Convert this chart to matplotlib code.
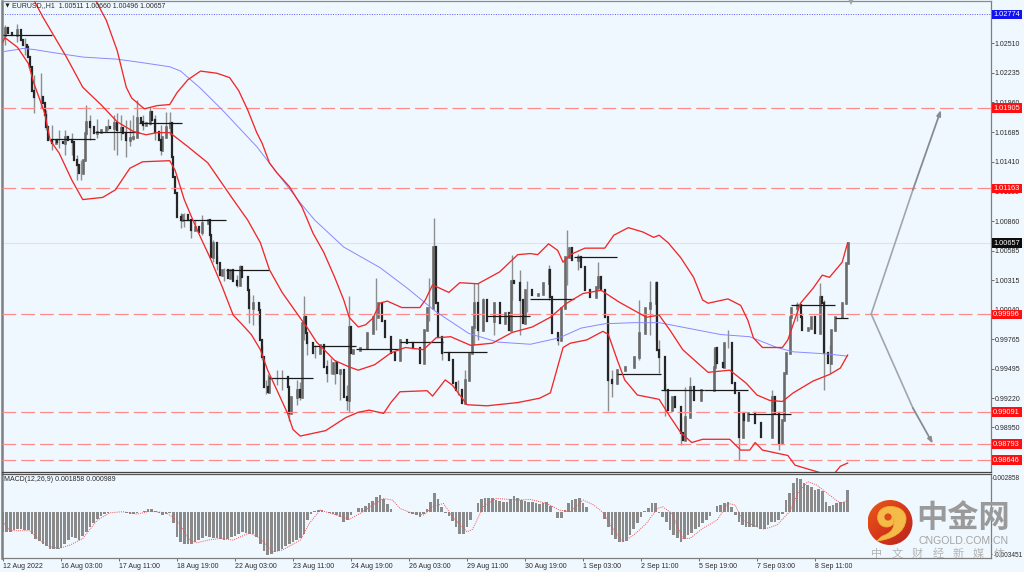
import matplotlib
matplotlib.use("Agg")
import matplotlib.pyplot as plt
from matplotlib.patches import Circle, PathPatch, Rectangle
from matplotlib.path import Path
import numpy as np

plt.rcParams['font.family'] = ['Liberation Sans', 'DejaVu Sans']

# ---- candles (hour index, close in 1e-4 price units) ----
bar_hours = [0,1,3,5,7,8,10,11,13,14,15,16,17,19,22,23,24,25,27,29,30,33,34,36,38,39,41,42,44,45,46,48,50,52,54,55,57,59,61,63,65,66,68,70,72,74,76,77,79,81,82,84,86,87,88,90,92,93,94,95,
96,98,99,102,104,106,108,110,113,114,115,116,118,120,121,124,125,127,129,131,132,135,136,138,141,142,143,144,146,147,150,154,157,158,159,162,164,165,166,167,168,171,175,177,179,182,184,186,188,190,191,192,193,197,201,204,207,209,211,214,216,219,223,226,230,232,234,237,239,240,242,246,248,250,253,255,257,259,260,262,265,267,271,274,277,279,280,282,285,287,288,292,295,298,301,302,303,306,308,310,312,314,317,319,321,324,327,328,330,332,334,336,339,343,348,351,354,357,360,361,362,365,367,369,371,374,375,376,379,381,385,388,390,392,393,394,397,398,400,402,404,406,408,409,411,415,418,420,424,426,428,430,431,432,434,435,438,440,441,444,446,448,451,452,453,455,457,459,462,463,465,466]
bar_close = [10258,10265,10260,10258,10258,10263,10254,10249,10247,10238,10229,10207,10201,10201,10195,10184,10173,10161,10158,10161,10159,10158,10164,10161,10159,10143,10138,10131,10143,10168,10178,10173,10168,10169,10170,10170,10173,10172,10177,10170,10172,10168,10161,10163,10164,10182,10178,10175,10177,10187,10180,10169,10161,10152,10164,10173,10177,10145,10127,10112,
10090,10087,10092,10087,10078,10081,10076,10084,10087,10073,10053,10066,10047,10036,10041,10033,10041,10031,10027,10044,10034,10022,10006,10010,10004,9976,9960,9932,9928,9942,9942,9942,9932,9908,9923,9930,9923,9992,9997,9982,9973,9964,9971,9951,9945,9955,9945,9948,9923,9920,9988,9964,9967,9969,9982,9997,10010,9994,9979,9964,9957,9976,9973,9969,9955,9985,10006,10062,10010,9979,9964,9957,9936,9930,9918,9939,9964,9988,10010,9985,10013,9994,10010,9992,10001,9985,10031,10029,10013,9992,10022,10018,10019,10029,10041,10016,9982,9976,10006,10053,10061,10050,10053,10044,10022,10016,10025,10034,10022,9997,9939,9936,9948,9951,9960,9982,10006,10010,10029,9967,9960,9930,9911,9923,9914,9890,9883,9905,9932,9920,9930,9930,9930,9951,9969,9955,9951,9973,9973,9936,9927,9886,9908,9902,9908,9899,9886,9886,9923,9908,9881,9902,9945,9964,9997,10006,10008,9997,9985,9987,9997,9982,10016,10010,9964,9955,9985,9997,9997,10010,10047,10066]

# ---- wicks (hour, high, low) ----
wick_hours = [1,8,12,17,21,24,27,31,34,38,41,43,46,48,52,58,61,63,65,68,70,72,74,77,81,84,87,90,92,98,100,104,106,110,116,118,122,129,131,136,138,141,143,145,146,151,154,158,162,164,166,168,172,179,181,183,186,190,191,206,235,238,242,251,255,260,262,265,271,281,285,289,301,306,311,317,328,334,336,351,357,360,362,365,374,376,379,392,400,406,424,428,438,451,453,456]
wick_high = [10268,10269,10256,10221,10223,10189,10175,10170,10170,10168,10147,10143,10194,10184,10181,10181,10184,10186,10184,10180,10180,10184,10198,10184,10192,10184,10175,10187,10187,10094,10094,10085,10087,10092,10069,10054,10043,10036,10045,10018,10018,10010,9971,9939,9944,9948,9948,9925,9939,9937,10017,9981,9971,9957,9959,9957,9948,9934,10017,10033,10033,10089,9976,9939,9948,10029,10029,10015,10011,10055,10041,10031,10045,9982,10078,10056,10048,9994,9948,10013,10031,10031,9976,9936,9905,9932,9942,9969,9985,9925,9930,9897,10011,10029,10013,9971]
wick_low = [10249,10252,10240,10186,10191,10170,10152,10154,10147,10147,10124,10124,10166,10161,10163,10170,10152,10147,10161,10145,10156,10161,10178,10170,10175,10161,10147,10166,10166,10080,10081,10070,10078,10073,10048,10041,10031,10025,10036,9992,9990,9990,9957,9926,9928,9934,9930,9901,9916,9920,9976,9962,9959,9937,9944,9935,9920,9911,9909,9985,9994,10013,9957,9925,9925,9971,9976,9985,9981,10013,9981,10002,10013,9971,10027,10041,10022,9910,9923,9957,9981,9976,9945,9906,9879,9899,9914,9930,9969,9865,9906,9874,9994,10010,9930,9945]

# ---- daily open lines ----
open_start = [0,27,51,75,99,123,147,171,195,219,243,267,291,315,339,363,387,411,435,459]
open_end = [27,51,75,99,123,147,171,195,219,243,267,291,315,339,363,387,411,435,459,466]
open_level = [10258,10162,10169,10177,10087,10041,9941,9970,9968,9974,9965,9998,10014,10053,9944,9930,9930,9907,10008,9996]

# ---- Bollinger bands ----
upper_hours = [51,57,63,68,71,78,85,92,96,102,109,118,125,130,135,140,143,147,151,158,165,168,171,177,183,188,191,196,200,204,208,212,220,230,233,237,246,252,262,274,279,284,291,295,301,306,309,313,321,332,337,345,353,359,362,367,374,381,386,389,400,407,411,414,419,430,433,440,447,452,456,463,466]
upper_band = [10291,10272,10244,10210,10200,10190,10193,10194,10205,10217,10225,10223,10219,10207,10189,10168,10158,10140,10131,10118,10099,10087,10075,10057,10034,10013,9997,9988,9990,9996,10010,10012,10006,10006,10013,10027,10020,10029,10028,10039,10047,10055,10056,10055,10065,10059,10048,10055,10061,10061,10073,10080,10076,10071,10073,10066,10052,10034,10013,10010,10014,10008,9994,9978,9969,9969,9976,10010,10024,10036,10034,10048,10066]
mid_hours = [17,22,35,44,54,63,72,79,85,92,102,113,127,135,142,147,154,162,168,173,183,191,196,205,214,222,232,239,247,258,270,281,292,302,311,320,330,340,355,362,368,375,383,389,401,410,416,423,430,436,447,456,462,466]
mid_band = [10291,10275,10238,10210,10194,10178,10169,10166,10168,10168,10155,10140,10106,10087,10066,10041,10020,10001,9987,9974,9957,9951,9948,9953,9964,9969,9967,9978,9979,9971,9973,9983,9988,9997,10010,10019,10022,10011,9997,9999,9985,9967,9955,9946,9948,9936,9925,9920,9919,9927,9938,9944,9950,9962]
lower_hours = [0,1,8,14,17,23,26,31,38,44,55,62,70,77,92,95,100,104,109,114,121,127,131,137,142,146,151,157,160,164,178,189,196,202,210,214,219,234,237,244,248,256,267,284,296,302,309,313,322,331,334,339,343,350,362,368,374,380,386,401,407,412,415,419,433,437,445,451,459,462,466]
lower_band = [10252,10256,10247,10232,10214,10186,10161,10149,10124,10106,10108,10115,10135,10141,10142,10133,10106,10090,10071,10053,10025,9999,9992,9981,9967,9948,9930,9908,9893,9887,9892,9904,9909,9911,9908,9918,9928,9929,9924,9939,9934,9916,9915,9918,9922,9927,9969,9973,9976,9984,9981,9957,9939,9925,9921,9905,9890,9881,9884,9884,9874,9874,9881,9874,9869,9860,9856,9853,9853,9859,9862]

# ---- moving average ----
ma_hours = [0,8,11,17,28,44,63,76,92,98,109,121,140,164,172,188,208,223,239,257,273,291,307,319,332,348,362,396,412,427,436,455,466]
ma_line = [10243,10245,10246,10245,10242,10238,10236,10233,10229,10225,10209,10189,10155,10103,10087,10062,10043,10024,10002,9982,9974,9972,9978,9987,9991,9992,9992,9981,9979,9969,9965,9963,9961]

# ---- horizontal levels ----
red_levels = [1.01905,1.01163,0.99996,0.99091,0.98793,0.98646]
blue_level = 1.02774
last_price = 1.00657

# ---- projection arrows (hour, 1e-4 price) ----
arrow_up_hours = [479,502,517.5]
arrow_up_price = [10000,10115,10189]
arrow_dn_hours = [479,502,513]
arrow_dn_price = [10000,9913,9880]

# ---- MACD, values in 1e-5, one histogram value per two hours ----
hist_values = [-161,-161,-161,-150,-141,-141,-144,-147,-175,-222,-241,-258,-280,-305,-305,-302,-294,-258,-230,-205,-211,-227,-197,-163,-125,-91,-58,-30,-17,-6,3,6,6,3,-3,-11,-17,-8,0,14,28,30,14,-8,-22,-14,-3,-91,-202,-244,-258,-263,-258,-249,-230,-211,-197,-208,-213,-216,-222,-230,-224,-202,-194,-180,-161,-169,-175,-180,-202,-258,-319,-355,-341,-330,-319,-302,-280,-258,-244,-230,-216,-175,-64,-14,14,22,19,6,-8,-17,-22,-36,-78,-64,-22,6,33,39,55,75,97,130,144,108,69,25,3,0,0,0,-8,-14,-22,-42,-17,25,89,158,108,42,-8,-28,-69,-125,-175,-175,-125,-64,6,80,111,119,122,116,103,97,89,86,108,136,122,103,94,89,83,75,72,75,83,53,6,-50,-44,19,80,103,114,116,80,42,6,0,0,0,-58,-119,-188,-222,-247,-249,-235,-188,-141,-91,-36,11,33,75,75,-3,-36,-77,-147,-188,-216,-244,-219,-188,-174,-141,-119,-86,-64,-30,6,53,61,75,89,47,-22,-78,-105,-119,-119,-122,-125,-136,-141,-105,-78,-78,-64,-14,103,158,241,283,274,241,230,213,186,191,180,89,53,64,75,83,89,186]
signal_hours = [0,4,9,15,20,26,31,37,44,52,59,66,74,81,90,96,103,107,113,120,127,136,142,149,154,164,169,175,184,191,197,204,210,215,219,226,232,237,243,248,256,259,265,272,284,291,300,307,313,320,326,331,337,342,348,355,361,364,369,375,379,386,394,400,404,408,416,420,427,434,439,444,449,456,462,466]
signal_values = [-78,-152,-152,-152,-230,-285,-299,-271,-216,-64,-3,6,-14,11,-3,-64,-230,-252,-230,-216,-230,-169,-216,-327,-313,-230,-91,19,-22,-58,-8,61,116,102,33,-8,-22,47,75,-36,-161,-141,47,116,103,108,75,19,6,103,61,0,-147,-244,-188,-91,33,47,-8,-216,-216,-133,-64,75,61,-64,-119,-139,-105,6,172,255,227,144,75,99]

# ---- tick labels ----
price_ticks = [1.02510,1.02235,1.01960,1.01685,1.01410,1.01135,1.00860,1.00585,1.00315,1.00040,0.99765,0.99495,0.99220,0.98950,0.98675]
macd_ticks = [0.002858,-0.003451]
date_ticks = [0,32,64,96,128,160,192,224,256,288,320,352,384,416,448]
date_labels = ['12 Aug 2022','16 Aug 03:00','17 Aug 11:00','18 Aug 19:00','22 Aug 03:00','23 Aug 11:00','24 Aug 19:00','26 Aug 03:00','29 Aug 11:00','30 Aug 19:00','1 Sep 03:00','2 Sep 11:00','5 Sep 19:00','7 Sep 03:00','8 Sep 11:00']

W, H = 1024, 572
BG = '#F0F8FF'
TXT = '#2a2a2a'
FS = 5.0
XLIM = (-0.55, 545.1)

def box(x0, y0, x1, y1):
    return [x0 / W, 1 - y1 / H, (x1 - x0) / W, (y1 - y0) / H]

fig = plt.figure(figsize=(W / 100, H / 100), dpi=100, facecolor=BG)
ax = fig.add_axes(box(2, 1, 991, 472), facecolor=BG)
mx = fig.add_axes(box(2, 474, 991, 558), facecolor=BG)

# ---- main chart ----
close = np.array(bar_close) / 1e4
opens = np.r_[close[0], close[:-1]]
hours = np.array(bar_hours)
ax.vlines(wick_hours, np.array(wick_low) / 1e4, np.array(wick_high) / 1e4, color='#8e8e8e', lw=1.0, zorder=2)
up = close >= opens
ax.vlines(hours[up], opens[up], close[up], color='#6a6a6a', lw=1.9, zorder=3, capstyle='projecting')
ax.vlines(hours[~up], opens[~up], close[~up], color='#262626', lw=1.6, zorder=3, capstyle='projecting')
ax.hlines(np.array(open_level) / 1e4, open_start, open_end, color='#1a1a1a', lw=0.9, zorder=4)

ax.axhline(last_price, color='#dfe3e8', lw=0.8, zorder=1)
ax.axhline(blue_level, color='#5a5aff', lw=0.7, ls=(0, (1, 1.5)), zorder=1)
for lv in red_levels:
    ax.axhline(lv, color='#ff8a8a', lw=0.9, ls=(0, (11, 4)), zorder=5)

ax.plot(ma_hours, np.array(ma_line) / 1e4, color='#8888ff', lw=0.7, zorder=5)
for hh, vv in ((upper_hours, upper_band), (mid_hours, mid_band), (lower_hours, lower_band)):
    ax.plot(hh, np.array(vv) / 1e4, color='#f02828', lw=0.95, zorder=6)

for hh, vv in ((arrow_up_hours, arrow_up_price), (arrow_dn_hours, arrow_dn_price)):
    vv = np.array(vv) / 1e4
    ax.plot(hh[:2], vv[:2], color='#a0a6ac', lw=1.2, zorder=6)
    ax.annotate('', xy=(hh[2], vv[2]), xytext=(hh[1], vv[1]), zorder=6,
                arrowprops=dict(arrowstyle='-|>,head_width=0.12,head_length=0.32', color='#888c91', lw=1.3,
                                shrinkA=0, shrinkB=0))

ax.set_xlim(*XLIM)
ax.set_ylim(0.98537, 1.02899)
ax.set_xticks([])
ax.yaxis.tick_right()
ax.set_yticks(price_ticks)
ax.set_yticklabels([f'{t:.5f}' for t in price_ticks], fontsize=FS, color=TXT)
ax.tick_params(axis='y', length=2.0, width=0.6, color='#555', pad=0.8)

# price tags
def tag(val, col):
    y = val
    tr = ax.get_yaxis_transform()
    ax.add_patch(Rectangle((1.0008, y - 0.00045), 0.0305, 0.0009, transform=tr, facecolor=col, edgecolor='none',
                           clip_on=False, zorder=10))
    ax.text(1.0022, y, f'{val:.5f}', transform=tr, color='white', fontsize=FS + 0.3, va='center', ha='left',
            clip_on=False, zorder=11)

for lv in red_levels:
    tag(lv, '#ff1010')
tag(blue_level, '#1212f0')
tag(last_price, '#0c0c0c')

# ---- MACD ----
hist_hours = np.arange(len(hist_values)) * 2
mx.bar(hist_hours, np.array(hist_values) / 1e5, width=1.4, color='#8a8a8a', linewidth=0, zorder=2)
mx.plot(signal_hours, np.array(signal_values) / 1e5, color='#f25050', lw=0.7, ls=(0, (1, 1.2)), zorder=3)
mx.set_xlim(*XLIM)
mx.set_ylim(-0.003783, 0.00319)
mx.yaxis.tick_right()
mx.set_yticks(macd_ticks)
mx.set_yticklabels([f'{t:.6f}' for t in macd_ticks], fontsize=FS - 0.3, color=TXT)
mx.tick_params(axis='y', length=1.0, width=0.6, color='#555', pad=0.6)
mx.set_xticks(date_ticks)
mx.set_xticklabels(date_labels, fontsize=FS, color=TXT, ha='left')
mx.tick_params(axis='x', length=2.2, width=0.6, color='#555', pad=1.5)

for a in (ax, mx):
    for s in a.spines.values():
        s.set_color('#7e7e7e')
        s.set_linewidth(0.9)
    a.spines['left'].set_linewidth(1.8)
ax.spines['bottom'].set_color('#444')
mx.spines['top'].set_color('#555')
ax.spines['top'].set_color('#8a8a8a')

# ---- overlay in picture pixels: captions and watermark ----
ov = fig.add_axes([0, 0, 1, 1], zorder=20)
ov.set_xlim(0, W)
ov.set_ylim(H, 0)
ov.axis('off')
ov.patch.set_visible(False)
ov.plot([6.5], [5], marker='v', ms=3, color='#222', mew=0)
ov.plot([851], [2], marker='v', ms=5, color='#a0a4a8', mew=0)
ov.text(12, 5.5, 'EURUSD,,H1  1.00511 1.00660 1.00496 1.00657', fontsize=FS, color=TXT, va='center')
ov.text(4, 479.5, 'MACD(12,26,9) 0.001858 0.000989', fontsize=FS, color=TXT, va='center')

gx, gy = np.meshgrid(np.linspace(0, 1, 60), np.linspace(0, 1, 60))
grad = gx + gy
im = ov.imshow(grad, extent=(867.5, 912.5, 545, 500), cmap=matplotlib.colors.LinearSegmentedColormap.from_list(
    'lg', ['#e95a18', '#d8381a', '#b8241c']), zorder=1, aspect='auto')
disc = Circle((890, 522.5), 22.5, transform=ov.transData)
im.set_clip_path(disc)
ov.set_xlim(0, W)
ov.set_ylim(H, 0)
verts = [(877, 541), (892, 539), (905, 533), (906, 519), (906, 509), (895, 505), (886, 507),
         (877, 509), (875, 520), (881, 525), (887, 530), (897, 525), (893, 518),
         (896, 526), (892, 532), (885, 535), (881, 536), (879, 539), (877, 541)]
codes = [Path.MOVETO] + [Path.CURVE4] * 18
ov.add_patch(PathPatch(Path(verts, codes), facecolor='#f4bb48', edgecolor='#f0ad38', lw=0.6, zorder=2))
ov.add_patch(Circle((888, 517), 3.6, facecolor='#dd4a1a', edgecolor='none', zorder=3))
ov.text(963, 518, '中金网', family=['Noto Sans CJK SC'], fontsize=22.5, fontweight='bold', color='#9a9a9a',
        ha='center', va='center', zorder=4)
ov.text(964, 540.5, 'CNGOLD.COM.CN', family=['Liberation Sans'], fontsize=7.6, color='#a4a4a4', ha='center', va='center', zorder=4)
for i, ch in enumerate('中文财经新媒体'):
    ov.text(877 + i * 20.3, 553.5, ch, family=['Noto Sans CJK SC'], fontsize=8, color='#b4b4b4', ha='center', va='center', zorder=4)

fig.savefig('out.png', dpi=100, facecolor=BG)
